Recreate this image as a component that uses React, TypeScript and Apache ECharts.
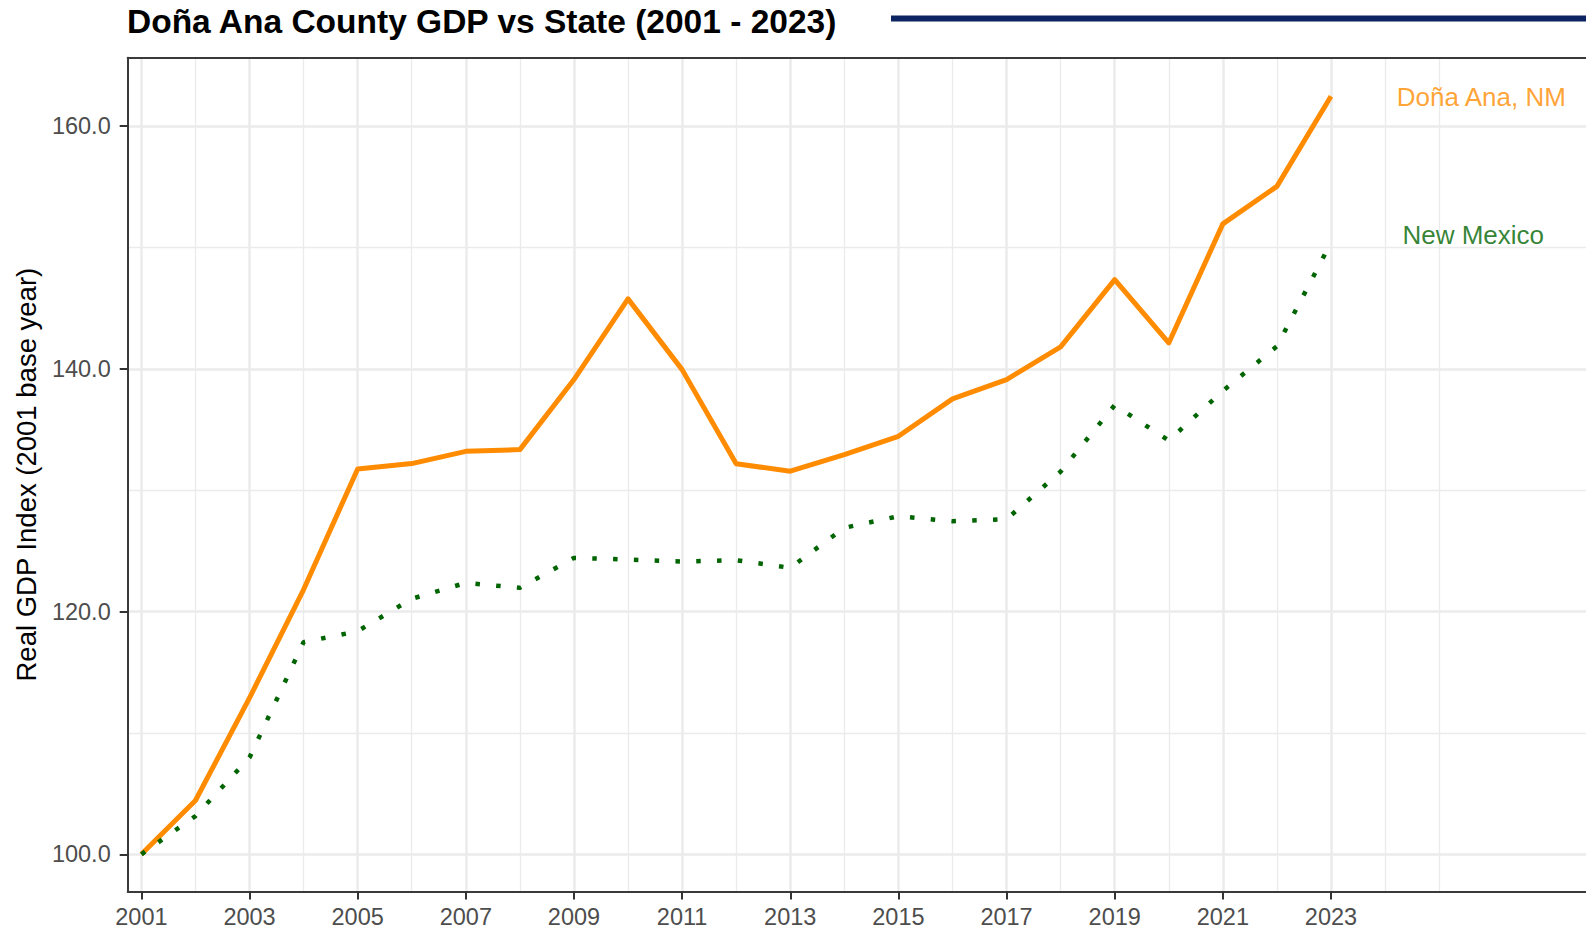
import React, { useEffect, useRef } from "react";
import * as echarts from "echarts";

const years = [2001, 2002, 2003, 2004, 2005, 2006, 2007, 2008, 2009, 2010, 2011, 2012, 2013, 2014, 2015, 2016, 2017, 2018, 2019, 2020, 2021, 2022, 2023];
const donaAna = [100, 104.43, 112.89, 121.81, 131.75, 132.19, 133.2, 133.34, 139.11, 145.76, 139.93, 132.17, 131.56, 132.93, 134.44, 137.52, 139.11, 141.8, 147.35, 142.13, 151.94, 155.03, 162.45];
const newMexico = [100, 103.15, 107.97, 117.48, 118.38, 121.05, 122.36, 121.95, 124.42, 124.28, 124.12, 124.23, 123.6, 126.9, 127.85, 127.44, 127.6, 131.53, 137.0, 134.09, 138.18, 141.85, 150.4];

const xLabelYears = [2001, 2003, 2005, 2007, 2009, 2011, 2013, 2015, 2017, 2019, 2021, 2023];
const xMinorYears = [2002, 2004, 2006, 2008, 2010, 2012, 2014, 2016, 2018, 2020, 2022, 2024, 2025];
const yMajorTicks = [100, 120, 140, 160];
const yMinorTicks = [110, 130, 150];

const seriesLabels = [
  { name: "Doña Ana, NM", year: 2025.78, value: 162.43, color: "#FF8C00" },
  { name: "New Mexico", year: 2025.63, value: 151.04, color: "#006400" },
];

const titleText = "Doña Ana County GDP vs State (2001 - 2023)";
const yAxisTitle = "Real GDP Index (2001 base year)";

const X_MIN = 2000.747;
const X_MAX = 2027.716;
const Y_MIN = 96.935;
const Y_MAX = 165.62;
const FONT = "'Liberation Sans', Arial, Helvetica, sans-serif";
const GRID_COLOR = "#EBEBEB";
const BORDER = { color: "#3A3A3A", width: 2 };

export default function App() {
  const ref = useRef<HTMLDivElement | null>(null);

  useEffect(() => {
    if (!ref.current) return;
    const chart = echarts.init(ref.current, undefined, { renderer: "svg" });
    const option: any = {
      animation: false,
      title: {
        text: titleText,
        left: 127,
        top: 4,
        padding: 0,
        textStyle: { fontFamily: FONT, fontSize: 33.5, fontWeight: "bold", color: "#000000" },
      },
      graphic: [
        {
          type: "rect",
          left: 891,
          top: 15.5,
          shape: { x: 0, y: 0, width: 700, height: 6 },
          style: { fill: "#0C2461" },
        },
      ],
      grid: {
        left: 127.7,
        right: 0,
        top: 57.8,
        bottom: 37.5,
        show: false,
        containLabel: false,
      },
      xAxis: [
        {
          type: "value",
          min: X_MIN,
          max: X_MAX,
          position: "bottom",
          axisLine: { show: true, onZero: false, lineStyle: BORDER },
          axisTick: { show: true, length: 8, lineStyle: { color: "#333333", width: 2 }, customValues: xLabelYears },
          axisLabel: {
            customValues: xLabelYears,
            formatter: (v: number) => String(Math.round(v)),
            color: "#4D4D4D",
            fontSize: 23.5,
            fontFamily: FONT,
            margin: 13,
          },
          splitLine: { show: true, lineStyle: { color: GRID_COLOR, width: 2.5 } },
          z: 2,
        },
        {
          type: "value",
          min: X_MIN,
          max: X_MAX,
          position: "bottom",
          axisLine: { show: false },
          axisTick: { show: false, customValues: xMinorYears },
          axisLabel: { show: false, customValues: xMinorYears },
          splitLine: { show: true, lineStyle: { color: GRID_COLOR, width: 1.3 } },
          z: 1,
        },
        {
          type: "value",
          min: X_MIN,
          max: X_MAX,
          position: "top",
          axisLine: { show: true, onZero: false, lineStyle: BORDER },
          axisTick: { show: false },
          axisLabel: { show: false },
          splitLine: { show: false },
          z: 2,
        },
      ],
      yAxis: [
        {
          type: "value",
          min: Y_MIN,
          max: Y_MAX,
          position: "left",
          name: yAxisTitle,
          nameLocation: "middle",
          nameRotate: 90,
          nameGap: 86,
          nameTextStyle: { fontFamily: FONT, fontSize: 27.5, color: "#000000" },
          axisLine: { show: true, onZero: false, lineStyle: BORDER },
          axisTick: { show: true, length: 8, lineStyle: { color: "#333333", width: 2 }, customValues: yMajorTicks },
          axisLabel: {
            customValues: yMajorTicks,
            formatter: (v: number) => v.toFixed(1),
            color: "#4D4D4D",
            fontSize: 23.5,
            fontFamily: FONT,
            margin: 17,
          },
          splitLine: { show: true, lineStyle: { color: GRID_COLOR, width: 2.5 } },
          z: 2,
        },
        {
          type: "value",
          min: Y_MIN,
          max: Y_MAX,
          position: "left",
          axisLine: { show: false },
          axisTick: { show: false, customValues: yMinorTicks },
          axisLabel: { show: false, customValues: yMinorTicks },
          splitLine: { show: true, lineStyle: { color: GRID_COLOR, width: 1.3 } },
          z: 1,
        },
      ],
      series: [
        {
          type: "line",
          name: "Doña Ana, NM",
          xAxisIndex: 0,
          yAxisIndex: 0,
          data: years.map((y, i) => [y, donaAna[i]]),
          symbol: "none",
          showSymbol: false,
          lineStyle: { color: "#FF8C00", width: 5, cap: "butt", join: "round" },
          silent: true,
          z: 3,
        },
        {
          type: "line",
          name: "New Mexico",
          xAxisIndex: 0,
          yAxisIndex: 0,
          data: years.map((y, i) => [y, newMexico[i]]),
          symbol: "none",
          showSymbol: false,
          lineStyle: { color: "#006400", width: 4.5, type: [4.5, 16.3], cap: "butt", join: "round" },
          silent: true,
          z: 4,
        },
        {
          type: "scatter",
          xAxisIndex: 0,
          yAxisIndex: 0,
          data: seriesLabels.map((l) => ({ value: [l.year, l.value], name: l.name, label: { color: l.color } })),
          symbolSize: 1,
          itemStyle: { color: "rgba(0,0,0,0)" },
          label: {
            show: true,
            position: "inside",
            formatter: "{b}",
            fontSize: 26,
            fontFamily: FONT,
          },
          silent: true,
          z: 5,
        },
      ],
    };
    chart.setOption(option);
    return () => {
      chart.dispose();
    };
  }, []);

  return <div ref={ref} style={{ position: "absolute", left: 0, top: 0, width: 1586, height: 929 }} />;
}
